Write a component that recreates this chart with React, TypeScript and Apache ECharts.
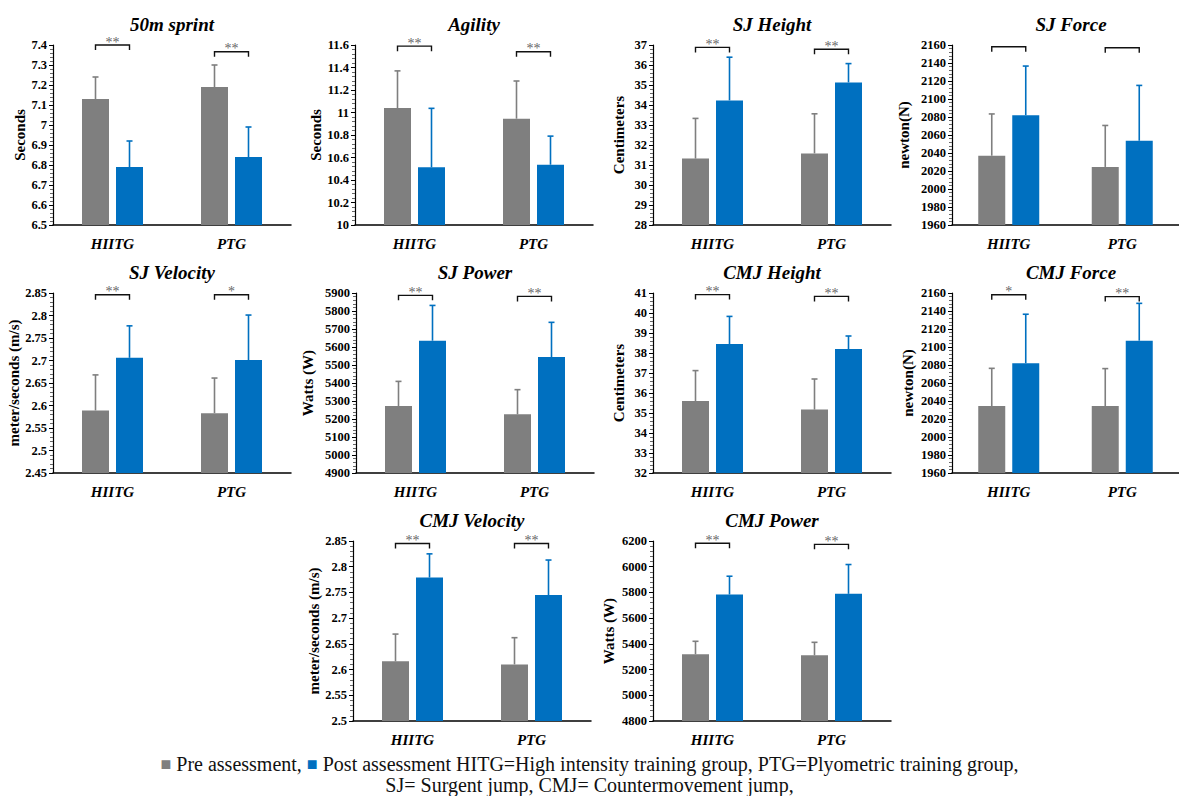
import React, { useEffect, useRef } from "react";
import * as echarts from "echarts";

// ---------- DATA ----------
const categories = ["HIITG", "PTG"];

const sprintPre = [7.13, 7.19];
const sprintPreErr = [0.11, 0.11];
const sprintPost = [6.79, 6.84];
const sprintPostErr = [0.13, 0.15];
const sprintStars = ["**", "**"];
const sprintBracket = [7.4, 7.366];

const agilityPre = [11.04, 10.945];
const agilityPreErr = [0.33, 0.335];
const agilityPost = [10.513, 10.536];
const agilityPostErr = [0.524, 0.254];
const agilityStars = ["**", "**"];
const agilityBracket = [11.59, 11.54];

const sjHeightPre = [31.32, 31.58];
const sjHeightPreErr = [2.01, 1.98];
const sjHeightPost = [34.23, 35.13];
const sjHeightPostErr = [2.16, 0.94];
const sjHeightStars = ["**", "**"];
const sjHeightBracket = [36.88, 36.79];

const sjForcePre = [2037, 2024.5];
const sjForcePreErr = [46.4, 46.1];
const sjForcePost = [2082, 2053.6];
const sjForcePostErr = [54.6, 61.5];
const sjForceStars = ["", ""];
const sjForceBracket = [2158, 2157];

const sjVelPre = [2.589, 2.583];
const sjVelPreErr = [0.079, 0.078];
const sjVelPost = [2.706, 2.701];
const sjVelPostErr = [0.071, 0.1];
const sjVelStars = ["**", "*"];
const sjVelBracket = [2.846, 2.846];

const sjPowerPre = [5272, 5226];
const sjPowerPreErr = [137, 137];
const sjPowerPost = [5635, 5544];
const sjPowerPostErr = [196, 193];
const sjPowerStars = ["**", "**"];
const sjPowerBracket = [5887, 5881];

const cmjHeightPre = [35.6, 35.17];
const cmjHeightPreErr = [1.52, 1.53];
const cmjHeightPost = [38.45, 38.2];
const cmjHeightPostErr = [1.38, 0.65];
const cmjHeightStars = ["**", "**"];
const cmjHeightBracket = [40.92, 40.83];

const cmjForcePre = [2034.4, 2034.4];
const cmjForcePreErr = [41.9, 41.6];
const cmjForcePost = [2082, 2107];
const cmjForcePostErr = [54.4, 41.5];
const cmjForceStars = ["*", "**"];
const cmjForceBracket = [2158, 2156];

const cmjVelPre = [2.616, 2.61];
const cmjVelPreErr = [0.053, 0.052];
const cmjVelPost = [2.779, 2.745];
const cmjVelPostErr = [0.046, 0.068];
const cmjVelStars = ["**", "**"];
const cmjVelBracket = [2.845, 2.845];

const cmjPowerPre = [5319, 5311];
const cmjPowerPreErr = [101, 101];
const cmjPowerPost = [5784, 5789];
const cmjPowerPostErr = [142, 228];
const cmjPowerStars = ["**", "**"];
const cmjPowerBracket = [6182, 6174];

const panels = [
  { title: "50m sprint", unit: "Seconds", min: 6.5, max: 7.4, interval: 0.1, pre: sprintPre, preErr: sprintPreErr, post: sprintPost, postErr: sprintPostErr, stars: sprintStars, bracket: sprintBracket },
  { title: "Agility", unit: "Seconds", min: 10, max: 11.6, interval: 0.2, pre: agilityPre, preErr: agilityPreErr, post: agilityPost, postErr: agilityPostErr, stars: agilityStars, bracket: agilityBracket },
  { title: "SJ Height", unit: "Centimeters", min: 28, max: 37, interval: 1, pre: sjHeightPre, preErr: sjHeightPreErr, post: sjHeightPost, postErr: sjHeightPostErr, stars: sjHeightStars, bracket: sjHeightBracket },
  { title: "SJ Force", unit: "newton(N)", min: 1960, max: 2160, interval: 20, pre: sjForcePre, preErr: sjForcePreErr, post: sjForcePost, postErr: sjForcePostErr, stars: sjForceStars, bracket: sjForceBracket },
  { title: "SJ Velocity", unit: "meter/seconds (m/s)", min: 2.45, max: 2.85, interval: 0.05, pre: sjVelPre, preErr: sjVelPreErr, post: sjVelPost, postErr: sjVelPostErr, stars: sjVelStars, bracket: sjVelBracket },
  { title: "SJ Power", unit: "Watts (W)", min: 4900, max: 5900, interval: 100, pre: sjPowerPre, preErr: sjPowerPreErr, post: sjPowerPost, postErr: sjPowerPostErr, stars: sjPowerStars, bracket: sjPowerBracket },
  { title: "CMJ Height", unit: "Centimeters", min: 32, max: 41, interval: 1, pre: cmjHeightPre, preErr: cmjHeightPreErr, post: cmjHeightPost, postErr: cmjHeightPostErr, stars: cmjHeightStars, bracket: cmjHeightBracket },
  { title: "CMJ Force", unit: "newton(N)", min: 1960, max: 2160, interval: 20, pre: cmjForcePre, preErr: cmjForcePreErr, post: cmjForcePost, postErr: cmjForcePostErr, stars: cmjForceStars, bracket: cmjForceBracket },
  { title: "CMJ Velocity", unit: "meter/seconds (m/s)", min: 2.5, max: 2.85, interval: 0.05, pre: cmjVelPre, preErr: cmjVelPreErr, post: cmjVelPost, postErr: cmjVelPostErr, stars: cmjVelStars, bracket: cmjVelBracket },
  { title: "CMJ Power", unit: "Watts (W)", min: 4800, max: 6200, interval: 200, pre: cmjPowerPre, preErr: cmjPowerPreErr, post: cmjPowerPost, postErr: cmjPowerPostErr, stars: cmjPowerStars, bracket: cmjPowerBracket },
];

const legendLine1 = ["Pre assessment,", "Post assessment HITG=High intensity training group, PTG=Plyometric training group,"];
const legendLine2 = "SJ= Surgent jump, CMJ= Countermovement jump,";

// ---------- LAYOUT / STYLE ----------
const SERIF = "Liberation Serif";
const GRAY = "#7f7f7f";
const BLUE = "#0070c0";
const PLOT_W = 238;
const PLOT_H = 180;
const BAR_W = 27;
const BAR_GAP = 7;
const positions = [
  [53, 45], [355, 45], [653, 45], [952, 45],
  [53, 293], [356, 293], [653, 293], [952, 293],
  [353, 541], [653, 541],
];
const nameGaps = [26, 29, 27, 41, 32, 41, 27, 37, 30, 37];

function errorRenderer(offset: number, color: string) {
  return (params: any, api: any) => {
    const x = api.value(0);
    const v = api.value(1);
    const e = api.value(2);
    const b = api.coord([x, v]);
    const t = api.coord([x, v + e]);
    const cx = b[0] + offset;
    return {
      type: "group",
      children: [
        { type: "line", shape: { x1: cx, y1: b[1], x2: cx, y2: t[1] }, style: { stroke: color, lineWidth: 1.6 } },
        { type: "line", shape: { x1: cx - 3, y1: t[1], x2: cx + 3, y2: t[1] }, style: { stroke: color, lineWidth: 1.6 } },
      ],
    };
  };
}

function bracketRenderer(stars: string[]) {
  const off = (BAR_W + BAR_GAP) / 2;
  return (params: any, api: any) => {
    const x = api.value(0);
    const y = api.value(1);
    const p = api.coord([x, y]);
    const x1 = p[0] - off;
    const x2 = p[0] + off;
    const label = stars[params.dataIndex];
    return {
      type: "group",
      children: [
        {
          type: "polyline",
          shape: { points: [[x1, p[1] + 5], [x1, p[1]], [x2, p[1]], [x2, p[1] + 5]] },
          style: { stroke: "#111", lineWidth: 1.4, fill: "none" },
        },
        {
          type: "text",
          x: p[0],
          y: p[1] + 4,
          style: { text: label, fill: "#666", fontFamily: SERIF, fontSize: 14, align: "center", verticalAlign: "bottom" },
        },
      ],
    };
  };
}

function buildOption() {
  const grid: any[] = [];
  const xAxis: any[] = [];
  const yAxis: any[] = [];
  const title: any[] = [];
  const series: any[] = [];
  const off = (BAR_W + BAR_GAP) / 2;

  panels.forEach((p, i) => {
    const [gx, gy] = positions[i];
    grid.push({ left: gx, top: gy, width: PLOT_W, height: PLOT_H, containLabel: false });
    title.push({
      text: p.title,
      left: gx + PLOT_W / 2,
      top: gy - 30,
      textAlign: "center",
      padding: 0,
      textStyle: { fontFamily: SERIF, fontSize: 19, fontWeight: "bold", fontStyle: "italic", color: "#000" },
    });
    xAxis.push({
      type: "category",
      gridIndex: i,
      data: categories,
      axisLine: { lineStyle: { color: "#000", width: 1.5 } },
      axisTick: { show: false },
      axisLabel: { fontFamily: SERIF, fontSize: 15, fontWeight: "bold", fontStyle: "italic", color: "#000", margin: 11 },
    });
    yAxis.push({
      type: "value",
      gridIndex: i,
      min: p.min,
      max: p.max,
      interval: p.interval,
      name: p.unit,
      nameLocation: "middle",
      nameGap: nameGaps[i],
      nameTextStyle: { fontFamily: SERIF, fontSize: 15, fontWeight: "bold", color: "#000" },
      axisLine: { show: true, lineStyle: { color: "#000", width: 1.2 } },
      axisTick: { show: true, length: 4, lineStyle: { color: "#000" } },
      minorTick: { show: true, splitNumber: 5, length: 3, lineStyle: { color: "#666" } },
      splitLine: { show: false },
      axisLabel: {
        fontFamily: SERIF,
        fontSize: 12.5,
        fontWeight: "bold",
        color: "#000",
        margin: 6,
        formatter: (v: number) => String(Math.round(v * 1000) / 1000),
      },
    });
    series.push({
      type: "bar",
      name: "Pre assessment",
      xAxisIndex: i,
      yAxisIndex: i,
      data: p.pre,
      barWidth: BAR_W,
      barGap: `${(BAR_GAP / BAR_W) * 100}%`,
      itemStyle: { color: GRAY },
      clip: true,
    });
    series.push({
      type: "bar",
      name: "Post assessment",
      xAxisIndex: i,
      yAxisIndex: i,
      data: p.post,
      barWidth: BAR_W,
      barGap: `${(BAR_GAP / BAR_W) * 100}%`,
      itemStyle: { color: BLUE },
      clip: true,
    });
    series.push({
      type: "custom",
      xAxisIndex: i,
      yAxisIndex: i,
      z: 5,
      encode: { x: 0, y: 1 },
      data: categories.map((c, j) => [j, p.pre[j], p.preErr[j]]),
      renderItem: errorRenderer(-off, GRAY),
    });
    series.push({
      type: "custom",
      xAxisIndex: i,
      yAxisIndex: i,
      z: 5,
      encode: { x: 0, y: 1 },
      data: categories.map((c, j) => [j, p.post[j], p.postErr[j]]),
      renderItem: errorRenderer(off, BLUE),
    });
    series.push({
      type: "custom",
      xAxisIndex: i,
      yAxisIndex: i,
      z: 6,
      clip: false,
      encode: { x: 0, y: 1 },
      data: categories.map((c, j) => [j, p.bracket[j]]),
      renderItem: bracketRenderer(p.stars),
    });
  });

  const graphic = [
    {
      type: "text",
      left: "center",
      top: 754,
      style: {
        text: `{g|■} ${legendLine1[0]} {b|■} ${legendLine1[1]}`,
        fontFamily: SERIF,
        fontSize: 20,
        lineHeight: 20,
        fill: "#111",
        rich: {
          g: { fill: GRAY, fontFamily: SERIF, fontSize: 18, lineHeight: 20 },
          b: { fill: BLUE, fontFamily: SERIF, fontSize: 18, lineHeight: 20 },
        },
      },
    },
    {
      type: "text",
      left: "center",
      top: 775,
      style: { text: legendLine2, fontFamily: SERIF, fontSize: 20, lineHeight: 20, fill: "#111" },
    },
  ];

  return { animation: false, backgroundColor: "#fff", textStyle: { fontFamily: SERIF }, grid, xAxis, yAxis, title, series, graphic };
}

export default function App() {
  const ref = useRef<HTMLDivElement>(null);
  useEffect(() => {
    if (!ref.current) return;
    const chart = echarts.init(ref.current, undefined, { renderer: "svg" });
    chart.setOption(buildOption() as any);
    return () => chart.dispose();
  }, []);
  return <div ref={ref} style={{ position: "absolute", left: 0, top: 0, width: 1179, height: 796, background: "#fff" }} />;
}
